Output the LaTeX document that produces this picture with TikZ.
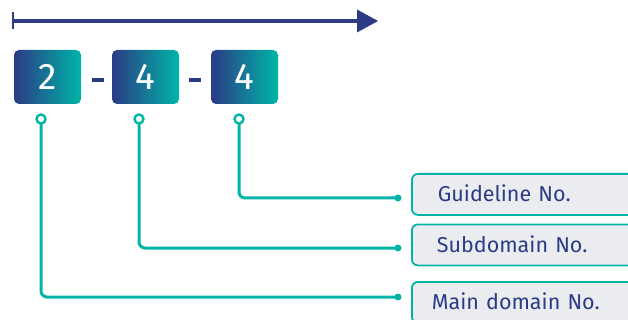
\documentclass[tikz,border=0pt]{standalone}
\usepackage{fontspec}
\setmainfont{Fira Sans}
\definecolor{navy}{HTML}{2B3B85}
\definecolor{teal}{HTML}{00B5A8}
\definecolor{labfill}{HTML}{EBECF0}
\begin{document}
\begin{tikzpicture}[x=1pt,y=-1pt,
  numbox/.style={rounded corners=5pt, left color=navy, right color=teal, minimum width=67pt, minimum height=54pt, inner sep=0pt, text=white, font=\fontsize{37}{37}\selectfont},
  dashmark/.style={navy, line width=4pt},
  conn/.style={teal, line width=3pt, rounded corners=6pt},
  ring/.style={circle, draw=teal, line width=2.4pt, fill=white, minimum size=9pt, inner sep=0pt},
  enddot/.style={circle, fill=teal, minimum size=7pt, inner sep=0pt},
  labbox/.style={rounded corners=6pt, draw=teal, line width=1.8pt, fill=labfill, minimum width=240pt, minimum height=41pt, anchor=north west, text=navy, font=\fontsize{21.5}{21.5}\selectfont, text width=240pt, inner xsep=0pt, align=left}
]
\clip (0,0) rectangle (628,320);
\useasboundingbox (0,0) rectangle (628,320);
% timeline arrow
\coordinate (as) at (13,21);
\coordinate (ae) at (360,21);
\draw[navy, line width=3.2pt] (as) -- (ae);
\draw[navy, line width=2.6pt] (13,12.5) -- (13,29.5);
\fill[navy] (357,9.5) -- (378,21) -- (357,32.5) -- cycle;
% number boxes
\node[numbox] (b1) at (47.5,77) {2};
\node[numbox] (b2) at (145.5,77) {4};
\node[numbox] (b3) at (244.5,77) {4};
\draw[dashmark] (92,80) -- (104,80);
\draw[dashmark] (189,80) -- (201,80);
% label boxes
\node[labbox] (g) at (411,173) {\hspace*{26pt}\raisebox{2pt}{Guideline No.}};
\node[labbox] (s) at (411,223.5) {\hspace*{25pt}\raisebox{2pt}{Subdomain No.}};
\node[labbox] (m) at (411,281) {\hspace*{20pt}\raisebox{2pt}{Main domain No.}};
% connector ends
\coordinate (e3) at (398,198);
\coordinate (e2) at (398,248);
\coordinate (e1) at (398,297);
\draw[conn] (239,119) -- (239,198) -- (e3);
\draw[conn] (139,119) -- (139,248) -- (e2);
\draw[conn] (41,119) -- (41,297) -- (e1);
\node[ring] (r1) at (41,119) {};
\node[ring] (r2) at (139,119) {};
\node[ring] (r3) at (239,119) {};
\node[enddot] at (e1) {};
\node[enddot] at (e2) {};
\node[enddot] at (e3) {};
\end{tikzpicture}
\end{document}
